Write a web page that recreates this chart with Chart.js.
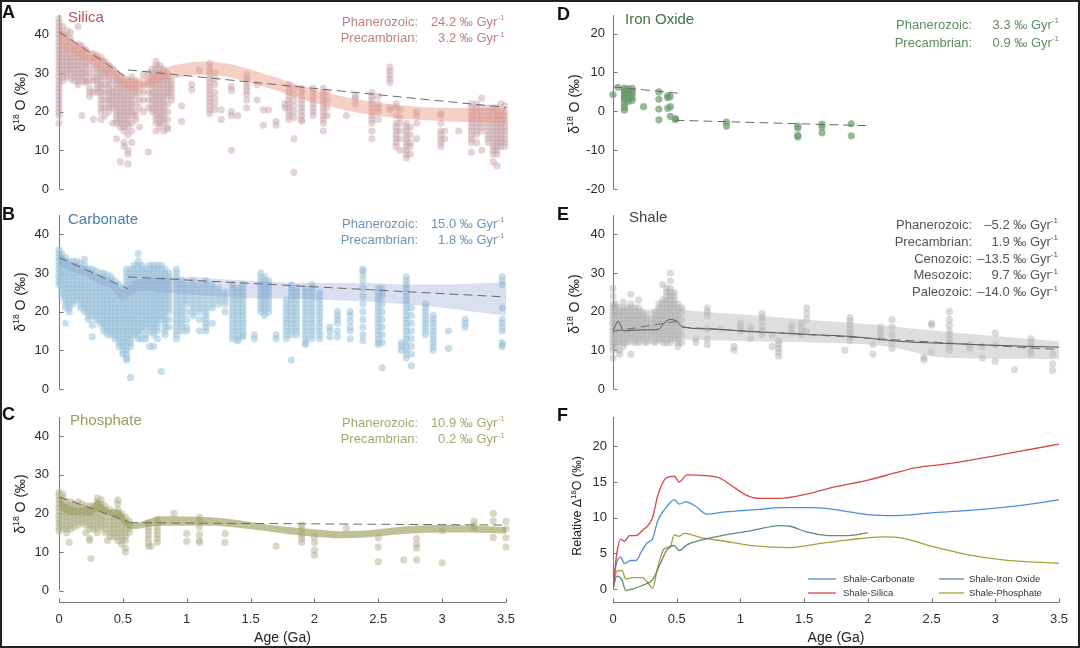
<!DOCTYPE html>
<html>
<head>
<meta charset="utf-8">
<script src="https://cdn.jsdelivr.net/npm/chart.js@4/dist/chart.umd.min.js"></script>
<style>
  html, body { margin: 0; padding: 0; background: #fff; }
  #fig { position: relative; width: 1080px; height: 648px; overflow: hidden; background: #fff; }
  #frame { position: absolute; left: 0; top: 0; width: 1080px; height: 648px; box-sizing: border-box; border: 2px solid #222; z-index: 5; pointer-events: none; }
</style>
</head>
<body>
<div id="fig"><div id="frame"></div></div>
<script>
const FONT = '"Liberation Sans", Arial, Helvetica, sans-serif';
const LETTER_FONT = '"Liberation Sans Narrow", "Liberation Sans", Arial, sans-serif';

const ageTicks = [0, 0.5, 1, 1.5, 2, 2.5, 3, 3.5];
const eraLabels = ['Phanerozoic:', 'Precambrian:', 'Cenozoic:', 'Mesozoic:', 'Paleozoic:'];

// ---- A: silica. columns of [age (Ga), δ18O values]
const silicaCols = [
  [0.00, [44, 43, 42, 41, 40, 39, 38, 37, 36, 35, 34, 33, 32, 31, 30, 29, 28, 27, 26, 25, 24, 23, 22, 21, 20, 19, 17]],
  [0.03, [42, 40, 38.5, 37, 36, 35, 34, 33, 32, 31, 30, 29, 28]],
  [0.06, [41, 39.5, 38, 37, 36, 35, 34, 33, 32, 31, 30, 29]],
  [0.09, [40.5, 39, 38, 36.5, 35, 34, 33, 32, 31, 30, 28.5]],
  [0.12, [37, 36, 35, 34, 33, 32, 31, 30, 29, 28]],
  [0.15, [42, 37.5, 36, 35, 34, 33, 32, 31, 30, 29, 28, 27]],
  [0.18, [37, 36, 35, 34, 33, 32, 31, 30, 29, 28, 19]],
  [0.21, [36, 35, 34, 33, 32, 31, 30, 29, 28, 27.5]],
  [0.24, [34, 32, 30, 28, 26, 25, 24]],
  [0.27, [35, 34, 33, 31, 29, 28, 25, 18]],
  [0.30, [34.5, 33.5, 32, 31, 30, 29, 28, 27, 26, 25]],
  [0.33, [34, 33, 32, 31, 30, 29, 28, 27, 26, 25, 24, 23, 22, 21, 20, 18]],
  [0.36, [33, 31, 30, 29, 27, 25, 23, 21, 19]],
  [0.39, [32, 31, 30, 29, 28, 27, 26, 25, 24, 23, 22, 21, 20]],
  [0.42, [31, 30, 28, 26, 25, 24, 23, 22, 21, 17]],
  [0.45, [30, 29, 28, 27, 26, 25, 24, 23, 22, 21, 20, 19, 18, 17, 13]],
  [0.48, [29, 28, 27, 26, 25, 24, 23, 22, 21, 20, 19, 18, 17, 16, 7]],
  [0.51, [28, 27, 26, 25, 24, 23, 22, 21, 20, 19, 18, 17, 16, 15, 12, 11]],
  [0.54, [28, 27, 26, 25, 24, 23, 22, 21, 20, 19, 18, 17, 16, 14, 10, 9, 6.5]],
  [0.57, [29, 28, 27, 26, 25, 24, 23, 22, 21, 20, 19, 17, 15, 12]],
  [0.60, [28, 27, 26, 25, 24, 22, 20, 19, 18]],
  [0.63, [27, 25, 23, 21, 16]],
  [0.66, [29.5, 27, 25, 23, 20]],
  [0.70, [30, 28, 27, 25, 23, 21, 9.6]],
  [0.73, [31, 30, 29, 28, 27, 26, 25, 24, 23, 22, 21, 20]],
  [0.76, [33, 32, 31, 30, 29, 28, 27, 26, 25, 24, 23, 22, 21, 20, 19, 18, 17, 15]],
  [0.79, [32, 31, 30, 29, 28, 27, 26, 25, 24, 23, 22, 21, 20, 19, 18, 17, 16]],
  [0.82, [31, 30, 29, 28, 27, 26, 25, 24, 23, 22, 21, 20, 19, 18, 17, 15]],
  [0.85, [30, 29, 28, 27, 26, 25, 24, 22, 20, 18, 16, 15.5]],
  [0.88, [28, 27, 26, 25, 24, 23]],
  [0.96, [21.5, 17.5]],
  [1.04, [27, 25.7]],
  [1.10, [30.7]],
  [1.18, [32.5, 31.5, 30.5, 29.5, 28.5, 27.5, 26.5, 25.5, 24.5, 23.5, 22.5, 21.5, 20.5, 19.5]],
  [1.22, [30, 28.5, 27, 25, 23.5, 22, 20.5]],
  [1.27, [20.5, 18]],
  [1.35, [26.5, 25.5, 20, 19, 10]],
  [1.40, [19]],
  [1.47, [29.5, 28.5, 27.5, 26.5, 25.5, 24.5, 23, 21]],
  [1.55, [27, 23]],
  [1.60, [20.5, 16.5]],
  [1.64, [20.5]],
  [1.70, [17.5, 16.5]],
  [1.77, [22, 21]],
  [1.80, [27, 26, 25, 24, 23, 22, 21, 20, 19, 18]],
  [1.84, [26, 24.5, 23, 21.5, 20, 18.5, 13, 4.3]],
  [1.90, [26, 25, 24, 23, 22, 21, 20, 19, 18, 17.5]],
  [1.99, [26, 25, 24, 23, 22, 21, 20, 19]],
  [2.07, [26, 25, 24, 23, 22, 21, 20, 19, 18, 17, 15]],
  [2.10, [25, 23, 21, 19]],
  [2.25, [19]],
  [2.32, [24, 23.5, 22]],
  [2.45, [25, 24, 23, 22, 21, 20, 19, 18, 17, 15, 13]],
  [2.50, [24, 22, 21, 20, 18]],
  [2.59, [31.5, 30.5, 29.5, 28.5, 27.5, 21, 20.5]],
  [2.64, [22, 21, 19, 17, 16, 15, 14, 13, 12, 11]],
  [2.67, [20.5, 18.5, 17, 15, 13, 10]],
  [2.72, [17, 16, 15, 14, 13, 12, 11, 10, 9, 8]],
  [2.75, [16, 14, 12, 11, 9]],
  [2.80, [20, 19, 17, 13]],
  [2.99, [19.5, 19, 17, 15, 14, 13, 12, 11]],
  [3.02, [15, 13]],
  [3.13, [15]],
  [3.23, [22, 21, 20, 19, 18, 17, 16, 15, 14, 13, 12, 9.5]],
  [3.27, [22, 21, 20, 19, 18, 17, 16, 15, 14, 12]],
  [3.31, [23.5, 21, 20, 19, 18, 17, 16, 15, 10]],
  [3.36, [21, 20, 19, 18, 17, 16, 15, 14, 13, 12]],
  [3.40, [21, 20, 19, 18, 17, 16, 15, 14, 13, 12, 11, 10, 9, 7]],
  [3.43, [21, 20, 19, 18, 17, 16, 15, 14, 13, 12, 11, 10, 9, 6]],
  [3.46, [22, 20, 19, 18, 17, 16, 15, 14, 13, 12, 11]],
  [3.49, [21.5, 20, 19, 18, 17, 16, 15, 14, 13, 12, 11]]
];
const silicaBandAge = [0, 0.1, 0.2, 0.3, 0.4, 0.5, 0.6, 0.7, 0.8, 0.9, 1.0, 1.1, 1.2, 1.3, 1.4, 1.5, 1.6, 1.7, 1.8, 1.9, 2.0, 2.1, 2.2, 2.3, 2.4, 2.5, 2.6, 2.8, 3.0, 3.2, 3.5];
const silicaBandHi = [42, 38.6, 36.9, 34.7, 32.6, 29.8, 28.4, 29.4, 30.9, 32.0, 32.6, 32.9, 32.9, 32.5, 31.8, 30.9, 29.9, 28.9, 27.7, 26.7, 25.7, 24.9, 24.1, 23.4, 22.8, 22.3, 21.9, 21.3, 21.0, 20.9, 21.0];
const silicaBandLo = [36.8, 35.0, 33.3, 31.1, 29.0, 26.6, 25.4, 26.2, 27.5, 28.6, 29.2, 29.5, 29.5, 29.1, 28.4, 27.5, 26.5, 25.5, 24.3, 23.3, 22.3, 21.5, 20.7, 20.0, 19.4, 18.9, 18.5, 17.9, 17.6, 17.3, 17.2];
const silicaPhan = [[0, 40.7], [0.54, 28.6]];
const silicaPre = [[0.54, 30.8], [3.5, 21.1]];
const silicaRates = ['24.2', '3.2'];

// ---- B: carbonate
const carbCols = [
  [0.00, [36, 35, 34, 33, 32, 31, 30, 29, 28, 27]],
  [0.02, [35, 34, 33, 32, 31, 30, 29, 28, 27, 26, 25, 24]],
  [0.05, [34, 33, 32, 31, 30, 29, 28, 27, 26, 25, 24, 23, 22, 21, 17]],
  [0.08, [33, 32, 31, 30, 29, 28, 27, 26, 25, 24, 23, 22, 21, 20]],
  [0.11, [33, 32, 31, 30, 29, 28, 27, 26, 25, 24, 23, 22]],
  [0.14, [33, 32, 31, 30, 29, 28, 27, 26, 25, 24, 23]],
  [0.17, [32.5, 31, 30, 29, 28, 27, 26, 25, 24, 23, 22, 21]],
  [0.20, [33.5, 32, 31, 30, 29, 28, 27, 26, 25, 24, 23, 22, 21, 20]],
  [0.23, [31, 30, 29, 28, 27, 26, 25, 24, 23, 22, 21, 20, 19, 18]],
  [0.26, [31, 30, 29, 28, 27, 26, 25, 24, 23, 22, 21, 20, 19, 16.5, 13.5]],
  [0.29, [30.5, 29, 28, 27, 26, 25, 24, 23, 22, 21, 20, 19, 18]],
  [0.32, [30, 29, 28, 27, 26, 25, 24, 23, 22, 21, 20, 19, 18, 17]],
  [0.35, [30, 29, 28, 27, 26, 25, 24, 23, 22, 21, 20, 19, 18, 17, 16, 15]],
  [0.38, [29.5, 28, 27, 26, 25, 24, 23, 22, 21, 20, 19, 18, 17, 16, 15, 14]],
  [0.41, [29, 28, 27, 26, 25, 24, 23, 22, 21, 20, 19, 18, 17, 16, 15, 14]],
  [0.44, [28, 27, 26, 25, 24, 23, 22, 21, 20, 19, 18, 17, 16, 15, 14, 13]],
  [0.47, [27, 26, 25, 24, 23, 22, 21, 20, 19, 18, 17, 16, 15, 14, 13, 12, 11]],
  [0.50, [26, 25, 24, 23, 22, 21, 20, 19, 18, 17, 16, 15, 14, 13, 12, 11, 10, 9]],
  [0.53, [31, 30, 29, 28, 27, 26, 25, 24, 23, 22, 21, 20, 19, 18, 17, 16, 15, 14, 13, 12, 11, 10, 9, 8, 7.5]],
  [0.56, [31, 30, 29, 28, 27, 26, 25, 24, 23, 22, 21, 20, 19, 18, 17, 16, 15, 14, 13, 12, 11, 3]],
  [0.59, [32, 31, 30, 29, 28, 27, 26, 25, 24, 23, 22, 21, 20, 19, 18, 17, 16, 15, 14]],
  [0.62, [35, 33, 32, 31, 30, 29, 28, 27, 26, 25, 24, 23, 22, 21, 20, 19, 18, 17, 16, 15, 14, 13]],
  [0.65, [32, 31, 30, 29, 28, 27, 26, 25, 24, 23, 22, 21, 20, 19, 18, 17, 16, 15, 13]],
  [0.68, [31, 30, 29, 28, 27, 26, 25, 24, 23, 22, 21, 20, 19, 18, 17, 16, 14, 13]],
  [0.71, [32, 31, 30, 29, 28, 27, 26, 25, 24, 23, 22, 21, 20, 19, 18, 17, 16, 15, 11]],
  [0.74, [32, 31, 30, 29, 28, 27, 26, 25, 24, 23, 22, 21, 20, 19, 18, 17, 16, 15, 14, 11]],
  [0.77, [32, 31, 30, 29, 28, 27, 26, 25, 24, 23, 22, 21, 20, 19, 18, 17, 16, 15, 13]],
  [0.80, [32, 31, 30, 29, 28, 27, 26, 25, 24, 23, 22, 21, 20, 19, 18, 4.5]],
  [0.83, [31, 30, 29, 28, 27, 26, 25, 24, 23, 22, 21, 20, 19, 18, 17, 16, 15, 14]],
  [0.86, [30, 29, 28, 27, 26, 25, 24, 23, 22, 21, 20, 18, 16]],
  [0.92, [31, 30, 29, 28, 27, 26, 25, 24, 23, 22, 21, 20, 19, 18, 17, 16, 15, 14, 13]],
  [0.96, [28, 27, 26, 25, 24, 23, 22, 21, 20, 19, 18, 17, 16, 15]],
  [1.00, [27, 26, 25, 24, 23, 22, 20, 18, 16, 15]],
  [1.05, [28, 27, 26, 25, 24, 23, 22, 21, 20, 19]],
  [1.10, [27, 26, 25, 24, 23, 22, 21, 20, 18, 15]],
  [1.15, [28, 27, 26, 25, 24, 23, 22, 21, 20, 19, 18, 17, 16, 15]],
  [1.20, [27, 26, 25, 24, 23, 22, 21, 17]],
  [1.25, [26, 25, 24, 23, 22]],
  [1.30, [25, 24, 23, 22, 20]],
  [1.36, [27, 26, 25, 24, 23, 22, 21, 20, 19, 18, 17, 16, 15, 14, 13]],
  [1.40, [26, 25, 24, 23, 22, 21, 20, 19, 18, 17, 16, 15, 14, 13, 12.5]],
  [1.44, [27, 26, 25, 24, 23, 22, 21, 20, 19, 18, 17, 16, 15, 14, 13.5]],
  [1.53, [14, 13]],
  [1.58, [30, 29, 28, 27, 26, 25, 24, 23, 22, 21, 20]],
  [1.61, [29, 28, 27, 26, 25, 24, 23, 22, 21, 20, 19]],
  [1.64, [28, 27, 26, 25, 24, 23, 22, 21, 20]],
  [1.70, [14, 13]],
  [1.78, [23, 22, 21, 20, 19, 18, 17, 16, 15, 14, 13]],
  [1.82, [27, 26, 25, 24, 23, 22, 21, 20, 19, 18, 17, 16, 15, 14, 7.5]],
  [1.86, [26, 25, 24, 23, 22, 21, 20, 19, 18, 17, 16, 15, 14]],
  [1.93, [26, 25, 24, 23, 22, 21, 20, 19, 18, 17, 16, 15, 14, 13, 12, 11.5]],
  [1.98, [27, 26, 25, 24, 23, 22, 21, 20, 19, 18, 17, 16, 15, 14, 13]],
  [2.04, [25, 24, 23, 22, 21, 20, 19, 18, 17, 16, 15, 14, 13]],
  [2.12, [16, 15, 13.5]],
  [2.18, [20, 19, 18, 17, 15, 13.5]],
  [2.28, [20, 19, 17.5, 16, 15, 13]],
  [2.38, [31, 30.5, 29.5, 28, 26, 24, 22, 20, 18, 16, 14, 12.5]],
  [2.50, [26, 25, 24, 23, 22, 21, 20, 19, 18, 17, 16, 15, 14, 13, 12, 11.5]],
  [2.53, [26, 25, 24, 22, 20, 18, 16, 14, 12, 5.5]],
  [2.68, [12, 11, 10]],
  [2.72, [29, 28, 27, 26, 25, 24, 23, 22, 21, 20, 19, 18, 17, 16, 15, 14, 13, 12, 11, 10, 9, 8]],
  [2.76, [21, 19, 17, 15, 13, 11, 9, 6]],
  [2.87, [22, 21, 20, 19, 18, 17, 16, 15, 14]],
  [2.93, [19, 18, 17, 16, 15, 14, 13, 12, 11, 10]],
  [3.05, [15, 10.5]],
  [3.18, [18, 17, 16]],
  [3.47, [29, 28, 27, 21, 18, 17, 16, 15, 12, 11.5, 11]]
];
const carbBandAge = [0, 0.1, 0.2, 0.3, 0.4, 0.5, 0.55, 0.6, 0.7, 0.8, 1.0, 1.2, 1.5, 1.8, 2.1, 2.4, 2.7, 3.0, 3.25, 3.5];
const carbBandHi = [35.5, 32.8, 31.8, 29.8, 28.6, 25.8, 26.8, 28.0, 28.5, 29.0, 29.0, 28.6, 28.0, 27.5, 27.4, 27.4, 27.0, 27.0, 27.3, 27.6];
const carbBandLo = [32.0, 30.4, 29.4, 27.4, 26.2, 23.0, 24.0, 25.0, 25.5, 25.0, 24.5, 24.0, 23.5, 23.4, 23.0, 22.6, 22.0, 21.0, 20.0, 19.0];
const carbPhan = [[0, 34], [0.54, 25.9]];
const carbPre = [[0.54, 29], [3.5, 23.8]];
const carbRates = ['15.0', '1.8'];

// ---- C: phosphate
const phosCols = [
  [0.00, [25.5, 24.5, 23.5, 22.5, 21.5, 20.5, 19.5, 18.5, 17.5, 16.5, 15.5]],
  [0.03, [25, 24, 23, 22, 21, 20, 19, 18, 17, 16]],
  [0.06, [23, 22, 21, 20, 19, 18, 17, 16, 15]],
  [0.08, [12.5]],
  [0.09, [23, 22, 21, 20, 19, 18, 17, 16]],
  [0.12, [22.5, 21.5, 20.5, 19.5, 18.5, 17.5, 16.5]],
  [0.15, [23, 22, 21, 20, 19, 18, 17]],
  [0.18, [22.5, 21.5, 20.5, 19.5, 18.5, 17.5]],
  [0.21, [22, 21, 20, 19, 18, 17, 15]],
  [0.24, [22, 21, 20, 19, 18, 17, 16, 13.5, 13]],
  [0.25, [8.3]],
  [0.27, [22, 21, 20, 19, 18, 17, 16]],
  [0.30, [24, 23, 22, 21, 20, 19, 18, 17, 16, 15]],
  [0.33, [23.5, 22.5, 21.5, 20.5, 19.5, 18.5, 17.5, 16.5]],
  [0.36, [22, 21, 20, 19, 18, 17, 16, 15]],
  [0.38, [13]],
  [0.40, [21, 20, 19, 18, 17, 16, 15, 14]],
  [0.43, [20, 19, 18, 17, 16, 15, 14]],
  [0.46, [23.5, 22.5, 21, 20, 19, 18, 17, 16, 15, 14, 13]],
  [0.49, [20, 19, 18, 17, 16, 15, 14, 13, 12]],
  [0.52, [19, 18, 17, 16, 15, 14, 13, 11, 10]],
  [0.55, [18, 17, 16, 15]],
  [0.70, [17.5, 16.5, 15.5, 14.5, 13.5, 12.5, 11.5]],
  [0.72, [11.5]],
  [0.77, [18.5, 17.5, 16.5, 15.5, 14.5, 13.5, 12.5]],
  [0.90, [20]],
  [1.00, [14.8, 12.8]],
  [1.10, [19, 18, 16.5, 14.5, 13, 12.5]],
  [1.30, [14.8, 12.5]],
  [1.70, [11.5]],
  [1.90, [17, 16, 14.5, 13.5, 12.5]],
  [2.00, [14, 12.5, 10.5, 9.2]],
  [2.25, [16.2]],
  [2.50, [13.7, 11.3, 7.5]],
  [2.70, [8]],
  [2.80, [13.5, 12, 11, 8]],
  [3.00, [15.5, 7.2]],
  [3.25, [18, 17, 16.3]],
  [3.40, [20, 18, 13.8]],
  [3.50, [18, 16, 13.7, 11.3]]
];
const phosBandAge = [0, 0.05, 0.1, 0.15, 0.2, 0.25, 0.3, 0.35, 0.4, 0.45, 0.5, 0.55, 0.6, 0.7, 0.8, 1.0, 1.2, 1.4, 1.6, 1.8, 2.0, 2.2, 2.4, 2.6, 2.8, 3.0, 3.2, 3.5];
const phosBandHi = [24.5, 22.5, 21.8, 21.5, 21.5, 21.8, 23.5, 22.0, 21.0, 21.0, 20.0, 17.5, 17.5, 18.5, 19.3, 19.2, 19.0, 18.3, 17.3, 16.5, 15.9, 15.4, 15.6, 16.3, 16.8, 17.0, 16.9, 16.5];
const phosBandLo = [21.5, 20.0, 19.5, 19.5, 19.5, 19.5, 20.5, 20.0, 19.5, 19.0, 17.5, 16.0, 16.0, 16.5, 16.8, 16.8, 16.8, 16.3, 15.5, 14.6, 14.0, 13.6, 13.8, 14.4, 14.9, 15.1, 15.1, 14.8];
const phosPhan = [[0, 24.3], [0.55, 17.8]];
const phosPre = [[0.55, 17.6], [3.5, 17.0]];
const phosRates = ['10.9', '0.2'];

// ---- D: iron oxide
const ironCols = [
  [0.00, [4.3]],
  [0.04, [6.2]],
  [0.09, [6, 5.5, 5, 4.5, 4, 3.5, 3, 2, 1, 0.3]],
  [0.12, [5.8, 5, 4.5, 3.8, 3.2, 2.5]],
  [0.15, [5.9, 5.2, 4.6, 3.6, 2.8]],
  [0.24, [1.2]],
  [0.36, [5, 3.1, 0.6, -2.2]],
  [0.43, [4, 3.5, 0.8]],
  [0.45, [3.8, 1.2, -1.3]],
  [0.49, [-1.9, -2.1]],
  [0.89, [-2.8, -3.8]],
  [1.45, [-3.8, -4.3, -6.2, -6.6]],
  [1.64, [-3.3, -4, -5.5]],
  [1.87, [-3.2, -6.3]]
];
const ironPhan = [[0, 6.3], [0.53, 4.6]];
const ironPre = [[0.49, -2.3], [2.0, -3.7]];
const ironRates = ['3.3', '0.9'];

// ---- E: shale
const shaleCols = [
  [0.00, [26, 24, 22, 21, 20, 19, 18, 17, 16, 15, 14, 13, 12, 11, 10, 8]],
  [0.02, [22, 21, 20, 19, 18, 17, 16, 15, 14, 13, 12, 11]],
  [0.05, [21, 20, 19, 18, 17, 16, 15, 14, 13, 12, 10, 9]],
  [0.08, [22.5, 21, 20, 19, 18, 17, 16, 15, 14, 13, 12, 11]],
  [0.11, [21, 20, 19, 18, 17, 16, 15, 14, 13, 12]],
  [0.14, [24.5, 22, 21, 20, 19, 18, 17, 16, 15, 14, 13, 9]],
  [0.17, [21, 20, 19, 18, 17, 16, 15, 14, 13, 12]],
  [0.20, [23, 21, 20, 19, 18, 17, 16, 15, 14, 13, 12]],
  [0.23, [20, 19, 18, 17, 16, 15, 14, 13]],
  [0.26, [19, 18, 17, 16, 15, 14, 13, 12]],
  [0.30, [18, 17, 16, 15, 14, 13]],
  [0.33, [20, 19, 18, 17, 16, 15, 14, 13, 12]],
  [0.36, [22, 21, 20, 19, 18, 17, 16, 15, 14, 13]],
  [0.39, [27, 23, 22, 21, 20, 19, 18, 17, 16, 15, 14, 13, 12]],
  [0.42, [26, 25, 24, 23, 22, 21, 20, 19, 18, 17, 16, 15, 14, 13, 12]],
  [0.45, [30, 28, 26, 25, 24, 23, 22, 21, 20, 19, 18, 17, 16, 15, 14, 13, 12]],
  [0.48, [25, 24, 23, 22, 21, 20, 19, 18, 17, 16, 15, 14, 13]],
  [0.51, [22, 21, 20, 19, 18, 17, 16, 15, 14, 13, 12, 11]],
  [0.54, [21, 20, 18, 16, 14, 12]],
  [0.65, [13, 12]],
  [0.74, [21, 20, 19, 15.5, 13, 11.5]],
  [0.85, [15.5]],
  [0.95, [11, 10]],
  [1.00, [17, 16, 15]],
  [1.08, [16, 15, 13]],
  [1.17, [19.5, 18.5, 17.5, 16, 15, 14]],
  [1.25, [14, 11]],
  [1.30, [12.5, 11.5, 10.5, 9.5, 8.5]],
  [1.40, [16.5, 15.5, 14.5]],
  [1.48, [17, 16, 15, 14]],
  [1.52, [21, 19.5, 18, 15]],
  [1.82, [10]],
  [1.86, [18.5, 17.5, 16.5, 15.5, 14.5, 13.5, 12.5]],
  [2.04, [11.5, 9]],
  [2.10, [16, 15, 14, 13]],
  [2.19, [18, 16, 14, 12, 10.5]],
  [2.44, [8.2, 7.5]],
  [2.50, [17, 16.5, 9.5]],
  [2.64, [20, 18, 16.5, 15, 14, 13, 12, 11, 10]],
  [2.80, [11.5, 10.5]],
  [2.90, [11, 8]],
  [3.00, [14.5, 11.5, 7.2]],
  [3.15, [5]],
  [3.28, [13, 12, 11, 10, 9]],
  [3.45, [9, 6.5, 4.8]]
];
const shaleBandAge = [0, 0.1, 0.2, 0.3, 0.4, 0.5, 0.55, 0.7, 1.0, 1.3, 1.6, 1.9, 2.1, 2.3, 2.5, 2.7, 3.0, 3.25, 3.5];
const shaleBandHi = [20.5, 20.5, 20.5, 20.5, 21, 21, 20.5, 20, 19.3, 18.5, 17.7, 17, 16.5, 15.8, 15.2, 14.5, 13.7, 13, 12.3];
const shaleBandLo = [11.5, 11.5, 11.5, 11.5, 12, 12.5, 12.8, 12.7, 12.4, 12.2, 12, 11.7, 11.2, 10, 8.5, 8, 7.8, 7.8, 7.7];
const shaleMidAge = [0, 0.02, 0.04, 0.06, 0.08, 0.15, 0.3, 0.36, 0.4, 0.45, 0.5, 0.55, 0.8, 1.0, 1.3, 1.6, 1.75, 1.9, 2.1, 2.3, 2.6, 3.0, 3.5];
const shaleMid = [15, 16.5, 17.5, 16.5, 15, 15.2, 15.3, 15.5, 17, 18, 17.5, 16, 15.5, 15, 14.5, 14, 13.8, 13.5, 12.8, 12.2, 11.8, 11.3, 10.8];
const shalePhan = [[0, 14.9], [0.54, 17.7]];
const shalePre = [[0.54, 16], [3.5, 10.2]];
const shaleRates = ['\u20135.2', '1.9', '\u201313.5', '9.7', '\u201314.0'];

// ---- F: relative Δ18O
const fSilicaAge = [0, 0.03, 0.06, 0.09, 0.13, 0.18, 0.23, 0.31, 0.35, 0.42, 0.48, 0.52, 0.58, 0.72, 0.83, 0.93, 1.04, 1.15, 1.31, 1.52, 1.74, 2.01, 2.22, 2.38, 2.65, 2.92, 3.19, 3.5];
const fSilica = [0, 5, 7, 6.7, 7.5, 7.5, 8.2, 10, 13, 15.6, 15.8, 15, 16, 15.9, 15.6, 14.5, 13.2, 12.7, 12.7, 13.3, 14.3, 15.3, 16.3, 17, 17.6, 18.4, 19.3, 20.3];
const fCarbAge = [0, 0.02, 0.06, 0.09, 0.14, 0.18, 0.23, 0.27, 0.31, 0.35, 0.42, 0.48, 0.52, 0.57, 0.64, 0.74, 0.88, 1.17, 1.31, 1.58, 1.79, 2.01, 2.22, 2.52, 2.92, 3.19, 3.5];
const fCarb = [0, 3, 4.5, 3.6, 4, 4, 5.5, 6.5, 7, 9.5, 11.5, 12.5, 11.9, 12.2, 11.7, 10.5, 10.8, 11.2, 11.4, 11.4, 11, 10.4, 10.3, 10.7, 11.2, 11.7, 12.5];
const fIronAge = [0, 0.03, 0.07, 0.1, 0.15, 0.23, 0.31, 0.37, 0.42, 0.48, 0.52, 0.58, 0.72, 0.88, 1.09, 1.31, 1.39, 1.52, 1.69, 1.85, 2.0];
const fIron = [0, 1.8, 1.3, -0.2, 0, 0.5, 1.3, 3.5, 5.4, 6.1, 5.4, 6.2, 7, 7.6, 8.2, 8.9, 8.8, 8, 7.5, 7.5, 7.9];
const fPhosAge = [0, 0.03, 0.07, 0.1, 0.15, 0.23, 0.29, 0.31, 0.35, 0.4, 0.45, 0.48, 0.52, 0.56, 0.69, 0.88, 1.09, 1.39, 1.63, 1.85, 2.12, 2.28, 2.52, 2.79, 3.06, 3.5];
const fPhos = [0, 2.5, 2.6, 1.4, 1.6, 1.6, 0.5, 0.1, 3, 5.6, 6, 7.6, 7.4, 7.8, 7.2, 6.7, 6.1, 5.8, 6.4, 6.9, 7.3, 7.1, 5.9, 4.8, 4.1, 3.6];

const C_RED = '#d6474b', C_BLUE = '#4a8fd8', C_GREEN = '#5f8c6c', C_OLIVE = '#a2a23a';

// ---------- helpers
const fig = document.getElementById('fig');
const flat = cols => cols.flatMap(([x, ys]) => ys.map(y => ({ x, y })));
const pts = (xs, ys) => xs.map((x, i) => ({ x, y: ys[i] }));
const pairs = arr => arr.map(([x, y]) => ({ x, y }));

function dots(cols, color) {
  return { type: 'scatter', data: flat(cols), backgroundColor: color, borderWidth: 0, pointRadius: 3.6, order: 4, clip: false };
}
function band(xs, hi, lo, color) {
  return [
    { type: 'line', data: pts(xs, hi), borderColor: 'transparent', borderWidth: 0, pointRadius: 0, fill: false, cubicInterpolationMode: 'monotone', order: 3 },
    { type: 'line', data: pts(xs, lo), borderColor: 'transparent', borderWidth: 0, pointRadius: 0, fill: '-1', backgroundColor: color, cubicInterpolationMode: 'monotone', order: 3 }
  ];
}
function trend(seg) {
  return { type: 'line', data: pairs(seg), borderColor: '#6a6a6a', borderWidth: 1, borderDash: [9, 5], pointRadius: 0, fill: false, order: 0 };
}
function curve(xs, ys, color, width) {
  return { type: 'line', data: pts(xs, ys), borderColor: color, borderWidth: width, pointRadius: 0, fill: false, cubicInterpolationMode: 'monotone', order: 1 };
}

function drawRich(ctx, segs, x, y, align, size, color) {
  const fontOf = sup => (sup ? size * 0.62 : size) + 'px ' + FONT;
  let w = 0;
  segs.forEach(([t, sup]) => { ctx.font = fontOf(sup); w += ctx.measureText(t).width; });
  let cx = align === 'right' ? x - w : align === 'center' ? x - w / 2 : x;
  ctx.fillStyle = color;
  ctx.textAlign = 'left';
  ctx.textBaseline = 'middle';
  segs.forEach(([t, sup]) => {
    ctx.font = fontOf(sup);
    ctx.fillText(t, cx, sup ? y - size * 0.33 : y);
    cx += ctx.measureText(t).width;
  });
}

const d18Title = [['\u03b4', false], ['18', true], [' O (\u2030)', false]];
const relTitle = [['Relative \u0394', false], ['18', true], ['O (\u2030)', false]];

function makePanel(left, top, w, h, cfg) {
  const cv = document.createElement('canvas');
  cv.width = w; cv.height = h;
  cv.style.cssText = `position:absolute;left:${left}px;top:${top}px;width:${w}px;height:${h}px`;
  fig.insertBefore(cv, document.getElementById('frame'));

  const zeroPad = s => { s.paddingTop = 0; s.paddingBottom = 0; s.paddingLeft = 0; s.paddingRight = 0; };

  const decor = {
    id: 'decor',
    beforeDatasetsDraw(chart) {
      const ctx = chart.ctx, xs = chart.scales.x, ys = chart.scales.y;
      const ax = Math.round(chart.chartArea.left) + 0.5;
      ctx.save();
      ctx.strokeStyle = '#777';
      ctx.lineWidth = 1;
      ctx.beginPath();
      ctx.moveTo(ax, ys.getPixelForValue(cfg.yMax));
      ctx.lineTo(ax, ys.getPixelForValue(cfg.yBase));
      cfg.yTicks.forEach(v => {
        const py = Math.round(ys.getPixelForValue(v)) + 0.5;
        ctx.moveTo(ax, py); ctx.lineTo(ax + 4, py);
      });
      if (cfg.showX) {
        const by = Math.round(chart.chartArea.bottom) - 0.5;
        ctx.moveTo(xs.getPixelForValue(0), by);
        ctx.lineTo(xs.getPixelForValue(3.5), by);
        ageTicks.forEach(v => {
          const px = Math.round(xs.getPixelForValue(v)) + 0.5;
          ctx.moveTo(px, by); ctx.lineTo(px, by - 4);
        });
      }
      ctx.stroke();
      ctx.restore();
    },
    afterDraw(chart) {
      const ctx = chart.ctx;
      ctx.save();
      // panel letter
      ctx.font = 'bold 18px ' + LETTER_FONT;
      ctx.fillStyle = '#111';
      ctx.textAlign = 'left';
      ctx.textBaseline = 'alphabetic';
      ctx.fillText(cfg.letter[0], cfg.letter[1], cfg.letter[2]);
      // material name
      if (cfg.name) {
        ctx.font = '15px ' + FONT;
        ctx.fillStyle = cfg.name[1];
        ctx.textBaseline = 'middle';
        ctx.fillText(cfg.name[0], cfg.name[2], cfg.name[3]);
      }
      // rate notes
      if (cfg.notes) {
        const n = cfg.notes;
        n.values.forEach((v, i) => {
          const y = n.y0 + i * n.dy;
          drawRich(ctx, [[eraLabels[i], false]], n.lx, y, 'right', 13, n.color);
          drawRich(ctx, [[v + ' \u2030 Gyr', false], ['-1', true]], n.vx, y, 'right', 13, n.color);
        });
      }
      // y title
      ctx.save();
      ctx.translate(cfg.yTitle.x, cfg.yTitle.y);
      ctx.rotate(-Math.PI / 2);
      drawRich(ctx, cfg.yTitle.segs, 0, 0, 'center', cfg.yTitle.size || 14, '#222');
      ctx.restore();
      // x title
      if (cfg.showX) {
        const xs = chart.scales.x;
        drawRich(ctx, [['Age (Ga)', false]], (xs.getPixelForValue(0) + xs.getPixelForValue(3.5)) / 2, cfg.xTitleY, 'center', 14, '#222');
      }
      // legend (panel F)
      if (cfg.legend) {
        cfg.legend.forEach(([label, color, x1, x2, tx, y]) => {
          ctx.strokeStyle = color;
          ctx.lineWidth = 1.3;
          ctx.beginPath();
          ctx.moveTo(x1, y); ctx.lineTo(x2, y);
          ctx.stroke();
          drawRich(ctx, [[label, false]], tx, y, 'left', 9.5, '#333');
        });
      }
      ctx.restore();
    }
  };

  return new Chart(cv, {
    type: 'scatter',
    data: { datasets: cfg.datasets },
    options: {
      responsive: false,
      animation: false,
      events: [],
      layout: { padding: cfg.pad },
      plugins: { legend: { display: false }, tooltip: { enabled: false } },
      scales: {
        x: {
          type: 'linear', min: 0, max: 3.5, display: cfg.showX,
          grid: { display: false, drawTicks: false },
          border: { display: false },
          ticks: { font: { family: FONT, size: 13 }, color: '#2d2d2d', padding: 9, maxRotation: 0, autoSkip: false, callback: v => String(v) },
          afterBuildTicks: s => { s.ticks = ageTicks.map(v => ({ value: v })); },
          afterFit: s => { s.height = cfg.showX ? 45 : 0; zeroPad(s); }
        },
        y: {
          type: 'linear', min: cfg.yMin, max: cfg.yMax,
          grid: { display: false, drawTicks: false },
          border: { display: false },
          ticks: { font: { family: FONT, size: 13 }, color: '#2d2d2d', padding: cfg.tickPad, callback: v => String(v) },
          afterBuildTicks: s => { s.ticks = cfg.yTicks.map(v => ({ value: v })); },
          afterFit: s => { s.width = cfg.yW; zeroPad(s); }
        }
      }
    },
    plugins: [decor]
  });
}

// ---------- left column
makePanel(0, 0, 540, 200, {
  yMin: 0, yMax: 45, yBase: 0, yTicks: [0, 10, 20, 30, 40], yW: 59, tickPad: 10,
  pad: { left: 0, right: 34, top: 15, bottom: 11 }, showX: false,
  letter: ['A', 2, 18], name: ['Silica', '#b4545a', 68, 17.5],
  notes: { values: silicaRates, color: '#c0807e', lx: 418, vx: 504.5, y0: 22.5, dy: 16.2 },
  yTitle: { segs: d18Title, x: 21, y: 102 },
  datasets: [trend(silicaPhan), trend(silicaPre),
    ...band(silicaBandAge, silicaBandHi, silicaBandLo, 'rgba(232,150,130,0.45)'),
    dots(silicaCols, 'rgba(198,160,165,0.45)')]
});

makePanel(0, 200, 540, 200, {
  yMin: 0, yMax: 45, yBase: 0, yTicks: [0, 10, 20, 30, 40], yW: 59, tickPad: 10,
  pad: { left: 0, right: 34, top: 15, bottom: 11 }, showX: false,
  letter: ['B', 2, 20], name: ['Carbonate', '#4a7eaa', 68, 20],
  notes: { values: carbRates, color: '#6f93b6', lx: 418, vx: 504.5, y0: 24, dy: 16.2 },
  yTitle: { segs: d18Title, x: 21, y: 102 },
  datasets: [trend(carbPhan), trend(carbPre),
    ...band(carbBandAge, carbBandHi, carbBandLo, 'rgba(125,145,205,0.28)'),
    dots(carbCols, 'rgba(155,195,218,0.55)')]
});

makePanel(0, 400, 540, 248, {
  yMin: -3.2, yMax: 45, yBase: 0, yTicks: [0, 10, 20, 30, 40], yW: 59, tickPad: 10,
  pad: { left: 0, right: 34, top: 17, bottom: 0 }, showX: true, xTitleY: 238,
  letter: ['C', 2, 20], name: ['Phosphate', '#9c9c5c', 70, 21],
  notes: { values: phosRates, color: '#a7a774', lx: 418, vx: 504.5, y0: 23.5, dy: 16.2 },
  yTitle: { segs: d18Title, x: 21, y: 104 },
  datasets: [trend(phosPhan), trend(phosPre),
    ...band(phosBandAge, phosBandHi, phosBandLo, 'rgba(160,160,95,0.65)'),
    dots(phosCols, 'rgba(178,178,140,0.5)')]
});

// ---------- right column
makePanel(540, 0, 540, 200, {
  yMin: -20, yMax: 24.8, yBase: -20, yTicks: [-20, -10, 0, 10, 20], yW: 73, tickPad: 8,
  pad: { left: 0, right: 21, top: 15, bottom: 11 }, showX: false,
  letter: ['D', 17, 20], name: ['Iron Oxide', '#3e743e', 85, 20],
  notes: { values: ironRates, color: '#5d8e5d', lx: 432, vx: 519, y0: 25.5, dy: 18 },
  yTitle: { segs: d18Title, x: 35, y: 104 },
  datasets: [trend(ironPhan), trend(ironPre), dots(ironCols, 'rgba(105,155,110,0.7)')]
});

makePanel(540, 200, 540, 200, {
  yMin: 0, yMax: 45, yBase: 0, yTicks: [0, 10, 20, 30, 40], yW: 73, tickPad: 8,
  pad: { left: 0, right: 21, top: 15, bottom: 11 }, showX: false,
  letter: ['E', 17, 20], name: ['Shale', '#444', 89, 18],
  notes: { values: shaleRates, color: '#555', lx: 432, vx: 518, y0: 25.5, dy: 16.8 },
  yTitle: { segs: d18Title, x: 35, y: 104 },
  datasets: [trend(shalePhan), trend(shalePre), curve(shaleMidAge, shaleMid, '#555', 1),
    ...band(shaleBandAge, shaleBandHi, shaleBandLo, 'rgba(190,190,190,0.5)'),
    dots(shaleCols, 'rgba(165,165,165,0.4)')]
});

makePanel(540, 400, 540, 248, {
  yMin: -1.95, yMax: 24.1, yBase: 0, yTicks: [0, 5, 10, 15, 20], yW: 73, tickPad: 6,
  pad: { left: 0, right: 21, top: 17, bottom: 0 }, showX: true, xTitleY: 238,
  letter: ['F', 17, 21],
  yTitle: { segs: relTitle, x: 38, y: 106, size: 12.5 },
  legend: [
    ['Shale-Carbonate', C_BLUE, 268, 296, 303, 179],
    ['Shale-Silica', C_RED, 268, 296, 303, 193],
    ['Shale-Iron Oxide', C_GREEN, 399, 424, 429, 179],
    ['Shale-Phosphate', C_OLIVE, 399, 424, 429, 193]
  ],
  datasets: [curve(fSilicaAge, fSilica, C_RED, 1.3), curve(fCarbAge, fCarb, C_BLUE, 1.3),
    curve(fIronAge, fIron, C_GREEN, 1.3), curve(fPhosAge, fPhos, C_OLIVE, 1.3)]
});
</script>
</body>
</html>
